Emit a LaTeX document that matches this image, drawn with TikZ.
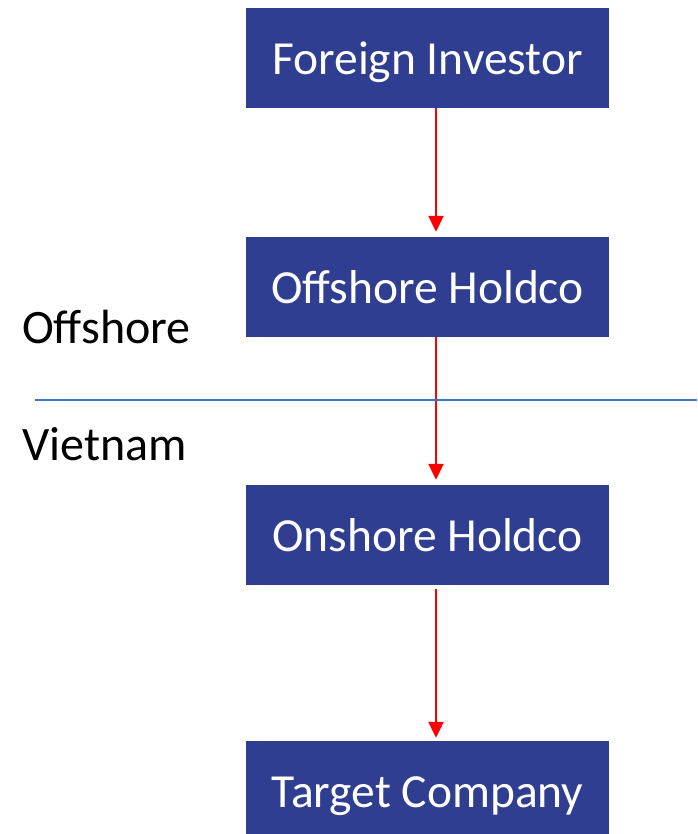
\documentclass[tikz,border=0pt]{standalone}
\usepackage{fontspec}
\setmainfont{Carlito}
\usetikzlibrary{arrows.meta}
\definecolor{boxblue}{RGB}{47,62,145}
\definecolor{lineblue}{RGB}{68,114,196}
\definecolor{arrred}{RGB}{255,0,0}
\begin{document}
\begin{tikzpicture}[x=1pt,y=-1pt,
  entity/.style={fill=boxblue,draw=none,minimum width=363pt,minimum height=100pt,inner sep=0pt,
    text=white,text height=33pt,text depth=0pt,font=\fontsize{47.5}{52}\selectfont},
  arr/.style={draw=arrred,line width=2.2pt,-{Triangle[width=15pt,length=16pt]}},
  lbl/.style={anchor=base west,inner sep=0pt,font=\fontsize{48}{52}\selectfont}]
\useasboundingbox (0,0) rectangle (697,834);
\clip (0,0) rectangle (697,834);
\node[entity] (b1) at (427.5,58) {Foreign Investor};
\node[entity] (b2) at (427.5,287) {Offshore Holdco};
\node[entity] (b3) at (427.5,535) {Onshore Holdco};
\node[entity] (b4) at (427.5,791) {Target Company};
\draw[arr] ([xshift=8.5pt]b1.south) -- ([xshift=8.5pt,yshift=5pt]b2.north);
\draw[arr] ([xshift=8.5pt]b2.south) -- ([xshift=8.5pt,yshift=5pt]b3.north);
\draw[arr] ([xshift=8.5pt,yshift=-4pt]b3.south) -- ([xshift=8.5pt,yshift=3pt]b4.north);
\coordinate (lineL) at (35,400);
\coordinate (lineR) at (697,400);
\draw[lineblue,line width=1.2pt] (lineL) -- (lineR);
\node[lbl] (off) at (22,343) {Offshore};
\node[lbl] (vn) at (22,460) {Vietnam};
\end{tikzpicture}
\end{document}
